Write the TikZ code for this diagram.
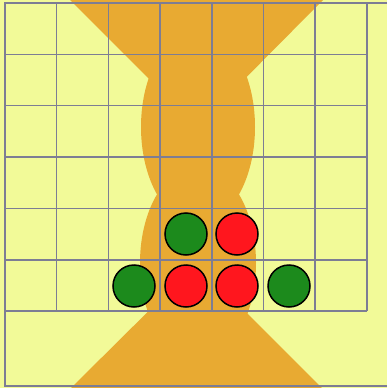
\documentclass[tikz,border=0pt]{standalone}
\usepackage{xcolor}
\usepackage{tikz}
\definecolor{paleyellow}{RGB}{242,250,152}
\definecolor{sandorange}{RGB}{232,170,50}
\definecolor{gridgray}{RGB}{125,125,148}
\definecolor{stonegreen}{RGB}{28,138,28}
\definecolor{stonered}{RGB}{255,22,30}
\tikzset{
  gridline/.style={draw=gridgray, line width=1.5pt},
  stone/.style={circle, draw=black, line width=1.5pt, minimum size=42pt, inner sep=0pt},
}

\begin{document}
\begin{tikzpicture}[x=1pt,y=-1pt]
            \fill[paleyellow] (0,0) rectangle (387,388);
            \useasboundingbox (0,0) rectangle (387,388);
            % sand shape: two funnels and two bulges
            \fill[sandorange] (70,0) -- (323,0) -- (197,127) -- cycle;
            \fill[sandorange] (71,388) -- (322,388) -- (197,263) -- cycle;
            \fill[sandorange] (198,127) ellipse [x radius=57, y radius=97];
            \fill[sandorange] (198,263) ellipse [x radius=58, y radius=97];
            % grid
            \foreach \i in {1,...,7} \draw[gridline] (5+51.7*\i,3) -- (5+51.7*\i,311);
            \foreach \j in {1,...,6} \draw[gridline] (5,3+51.35*\j) -- (367,3+51.35*\j);
            \draw[gridline] (387,3) -- (5,3) -- (5,386) -- (387,386);
            % stones
            \node[stone, fill=stonegreen] (g1) at (186,234) {};
            \node[stone, fill=stonered] (r1) at (237,234) {};
            \node[stone, fill=stonegreen] (g2) at (134,286) {};
            \node[stone, fill=stonered] (r2) at (186,286) {};
            \node[stone, fill=stonered] (r3) at (237,286) {};
            \node[stone, fill=stonegreen] (g3) at (289,286) {};
        \end{tikzpicture}
\end{document}
